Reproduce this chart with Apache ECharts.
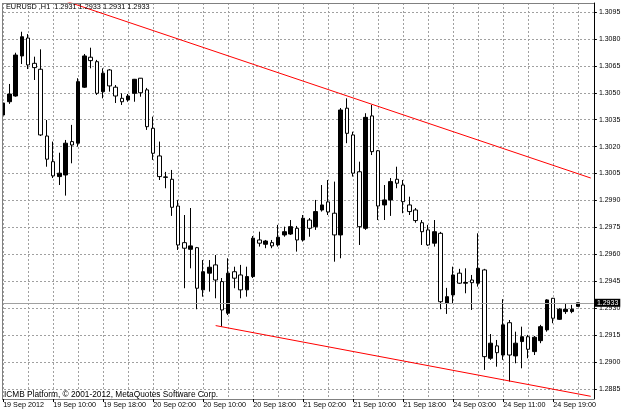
<!DOCTYPE html>
<html><head><meta charset="utf-8">
<script src="https://cdn.jsdelivr.net/npm/echarts@6/dist/echarts.min.js"></script>
<style>html,body{margin:0;padding:0;background:#fff}#c{width:625px;height:412px}</style>
</head><body><div id="c"></div>
<script>
// ---- data ----
const symbolName = 'EURUSD';
const periodName = 'H1';
const sessions = [['19 Sep', 2, 23], ['20 Sep', 0, 23], ['21 Sep', 0, 22], ['24 Sep', 0, 23]];
const firstLabel = '19 Sep 2012';
const opens = [1.30376,1.30450,1.30482,1.30705,1.30805,1.30664,1.30631,1.30259,1.30116,1.30033,
1.30042,1.30228,1.30219,1.30531,1.30698,1.30673,1.30506,1.30627,1.30531,1.30469,
1.30460,1.30497,1.30581,1.30516,1.30302,1.30148,1.30029,1.30018,1.29869,1.29665,
1.29628,1.29637,1.29402,1.29495,1.29541,1.29448,1.29272,1.29503,1.29485,1.29402,
1.29476,1.29680,1.29656,1.29665,1.29652,1.29708,1.29713,1.29745,1.29680,1.29791,
1.29754,1.29847,1.29892,1.29829,1.29708,1.30414,1.30265,1.30060,1.29745,1.30371,
1.30177,1.29875,1.29903,1.30018,1.29986,1.29875,1.29847,1.29776,1.29736,1.29662,
1.29717,1.29327,1.29374,1.29495,1.29439,1.29457,1.29439,1.29513,1.29021,1.29090,
1.29039,1.29219,1.29034,1.29114,1.29141,1.29058,1.29119,1.29179,1.29355,1.29238,
1.29281,1.29281,1.29310];
const closes = [1.30443,1.30493,1.30710,1.30812,1.30655,1.30640,1.30265,1.30130,1.30037,1.30052,
1.30219,1.30209,1.30562,1.30705,1.30679,1.30497,1.30609,1.30538,1.30482,1.30450,
1.30482,1.30575,1.30500,1.30311,1.30163,1.30033,1.30031,1.29862,1.29652,1.29634,
1.29647,1.29411,1.29503,1.29528,1.29457,1.29290,1.29495,1.29467,1.29402,1.29476,
1.29690,1.29662,1.29674,1.29647,1.29695,1.29726,1.29754,1.29680,1.29801,1.29745,
1.29838,1.29875,1.29836,1.29708,1.30404,1.30274,1.30052,1.29754,1.30363,1.30172,
1.29869,1.29903,1.30005,1.29996,1.29893,1.29838,1.29788,1.29726,1.29652,1.29726,
1.29336,1.29364,1.29485,1.29439,1.29443,1.29442,1.29522,1.29030,1.29105,1.29052,
1.29207,1.29039,1.29105,1.29141,1.29071,1.29138,1.29197,1.29346,1.29244,1.29294,
1.29294,1.29294,1.29330];
const lows = [1.30358,1.30438,1.30478,1.30660,1.30632,1.30571,1.30259,1.30088,1.30025,1.29986,
1.29927,1.30107,1.30200,1.30527,1.30636,1.30488,1.30469,1.30506,1.30443,1.30432,
1.30450,1.30450,1.30478,1.30293,1.30126,1.30014,1.29968,1.29814,1.29624,1.29411,
1.29522,1.29294,1.29364,1.29392,1.29355,1.29197,1.29262,1.29411,1.29355,1.29364,
1.29468,1.29643,1.29634,1.29634,1.29643,1.29698,1.29708,1.29615,1.29671,1.29698,
1.29736,1.29838,1.29819,1.29559,1.29578,1.30219,1.30033,1.29652,1.29736,1.30153,
1.29791,1.29791,1.29814,1.29968,1.29829,1.29819,1.29776,1.29652,1.29647,1.29643,
1.29294,1.29268,1.29327,1.29435,1.29383,1.29290,1.29420,1.28956,1.29012,1.28974,
1.29012,1.28891,1.28993,1.28965,1.29021,1.29039,1.29105,1.29169,1.29216,1.29234,
1.29268,1.29272,1.29310];
const highs = [1.30460,1.30549,1.30723,1.30840,1.30827,1.30701,1.30742,1.30348,1.30228,1.30166,
1.30237,1.30321,1.30581,1.30716,1.30751,1.30683,1.30636,1.30632,1.30543,1.30497,
1.30493,1.30577,1.30582,1.30527,1.30367,1.30228,1.30059,1.30070,1.29903,1.29819,
1.29858,1.29641,1.29568,1.29568,1.29596,1.29468,1.29578,1.29531,1.29541,1.29531,
1.29702,1.29726,1.29680,1.29680,1.29764,1.29754,1.29791,1.29758,1.29819,1.29802,
1.29903,1.29986,1.30014,1.30005,1.30415,1.30469,1.30283,1.30116,1.30386,1.30432,
1.30181,1.29986,1.30025,1.30088,1.30014,1.29921,1.29858,1.29791,1.29764,1.29791,
1.29725,1.29413,1.29531,1.29519,1.29522,1.29485,1.29717,1.29519,1.29156,1.29123,
1.29350,1.29234,1.29169,1.29197,1.29151,1.29145,1.29207,1.29350,1.29357,1.29300,
1.29324,1.29318,1.29330];
const yTicks = [1.2885,1.2900,1.2915,1.2930,1.2945,1.2960,1.2975,1.2990,1.3005,1.3020,1.3035,1.3050,1.3065,1.3080,1.3095];
const upperTrend = [[0, 1.31128], [94, 1.30025]];
const lowerTrend = [[34, 1.29203], [94, 1.28809]];
const copyrightText = 'ICMB Platform, \u00A9 2001-2012, MetaQuotes Software Corp.';

// ---- build ----
const categories = [];
sessions.forEach(([d, h0, h1]) => { for (let h = h0; h <= h1; h++) categories.push(d + ' ' + String(h).padStart(2, '0') + ':00'); });
categories.push('', '');
const candleData = opens.map((o, i) => [o, closes[i], lows[i], highs[i]]);
const last = opens.length - 1;
const f4 = v => v.toFixed(4);
const FONT = '"Liberation Sans", Arial, sans-serif';
const labelIdx = i => i % 8 === 0 && i <= 88;

const chart = echarts.init(document.getElementById('c'));
chart.setOption({
  animation: false,
  backgroundColor: '#fff',
  title: {
    text: symbolName + ' ,' + periodName + '  ' + f4(opens[last]) + ' ' + f4(highs[last]) + ' ' + f4(lows[last]) + ' ' + f4(closes[last]),
    left: 6, top: 3, padding: 0,
    textStyle: { fontFamily: FONT, fontSize: 7.3, fontWeight: 'normal', color: '#000' }
  },
  grid: { left: -0.425, top: 3, width: 594.3, height: 396, show: false },
  xAxis: {
    type: 'category', data: categories, boundaryGap: true,
    axisLine: { show: true, lineStyle: { color: '#808080', width: 1 } },
    axisTick: { show: true, alignWithLabel: true, interval: labelIdx, length: 3, lineStyle: { color: '#000' } },
    axisLabel: { interval: labelIdx, formatter: (v, i) => i === 0 ? firstLabel : v, align: 'left', margin: 3,
      fontFamily: FONT, fontSize: 7.2, color: '#000' },
    splitLine: { show: true, interval: i => i % 4 === 0, alignWithLabel: true,
      lineStyle: { color: '#a0a0a0', type: [2, 2], width: 1 } }
  },
  yAxis: {
    type: 'value', position: 'right', min: 1.28794, max: 1.31000,
    axisLine: { show: true, lineStyle: { color: '#000', width: 1 } },
    axisTick: { show: true, customValues: yTicks, length: 3, lineStyle: { color: '#000' } },
    axisLabel: { customValues: yTicks, formatter: v => v.toFixed(4), margin: 5, fontFamily: FONT, fontSize: 7, color: '#000' },
    splitLine: { show: true, lineStyle: { color: '#a0a0a0', type: [2, 2], width: 1 } }
  },
  series: [
    {
      type: 'candlestick', data: candleData, barWidth: 4,
      itemStyle: { color: '#000', color0: '#fff', borderColor: '#000', borderColor0: '#000', borderWidth: 1 },
      markLine: {
        silent: true, symbol: ['none', 'none'], animation: false, precision: 4,
        data: [{ yAxis: closes[last] }],
        lineStyle: { color: '#a0a0a0', type: 'solid', width: 1 },
        label: { show: true, position: 'end', distance: 1, formatter: p => f4(p.value),
          backgroundColor: '#000', color: '#fff', padding: [1, 2, 0, 2], fontFamily: FONT, fontSize: 7 }
      }
    },
    { type: 'line', data: upperTrend, symbol: 'none', silent: true, lineStyle: { color: '#ff0000', width: 1 }, z: 5 },
    { type: 'line', data: lowerTrend, symbol: 'none', silent: true, lineStyle: { color: '#ff0000', width: 1 }, z: 5 }
  ],
  graphic: [
    { type: 'rect', shape: { x: 0, y: 0, width: 2, height: 400 }, style: { fill: '#fff' }, z: 50 },
    { type: 'line', shape: { x1: 2.5, y1: 3, x2: 2.5, y2: 399 }, style: { stroke: '#808080', lineWidth: 1 }, z: 51 },
    { type: 'line', shape: { x1: 2, y1: 3.5, x2: 594, y2: 3.5 }, style: { stroke: '#808080', lineWidth: 1 }, z: 51 },
    { type: 'text', style: { text: copyrightText, x: 4, y: 394.5, textVerticalAlign: 'middle', font: '8.3px ' + FONT, fill: '#000' }, z: 51 }
  ]
});
</script>
</body></html>
